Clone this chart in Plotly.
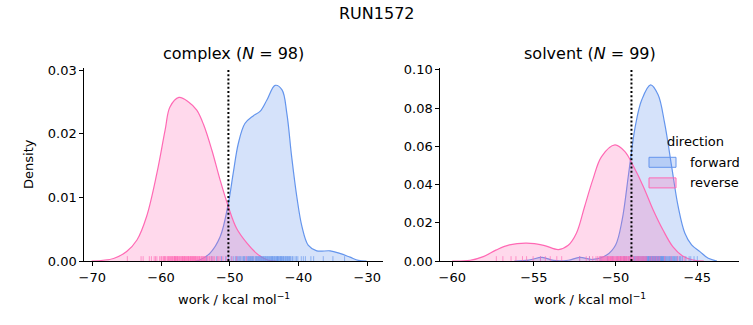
import plotly.graph_objects as go
from plotly.subplots import make_subplots

# ---------------- data ----------------
suptitle = "RUN1572"
phases = ["complex", "solvent"]
n_counts = [98, 99]
directions = ["forward", "reverse"]

# KDE curves (x, density)
complex_fwd_x = [-55.0, -54.3, -52.9, -51.4, -50.2, -49.5, -48.75, -47.8, -46.6, -45.6, -44.6, -43.4,
                 -42.4, -41.7, -41.0, -40.25, -39.5, -38.6, -37.35, -35.4, -34.0, -32.5, -31.3, -30.1]
complex_fwd_y = [0.0, 0.0002, 0.0012, 0.0038, 0.0091, 0.0138, 0.0185, 0.0216, 0.0228, 0.0235, 0.0253, 0.0276,
                 0.0269, 0.0232, 0.0164, 0.0101, 0.0054, 0.0025, 0.0016, 0.0016, 0.0012, 0.0006, 0.0001, 0.0]

complex_rev_x = [-70.1, -66.9, -65.0, -63.5, -62.1, -60.6, -59.4, -58.7, -57.4, -56.0, -54.8, -53.8,
                 -52.6, -51.4, -50.2, -49.0, -47.5, -46.1, -44.6, -43.2]
complex_rev_y = [0.0, 0.0004, 0.0015, 0.0033, 0.0070, 0.0138, 0.0206, 0.0242, 0.0257, 0.0250, 0.0237, 0.0214,
                 0.0174, 0.0127, 0.0085, 0.0051, 0.0028, 0.0012, 0.0002, 0.0]

solvent_fwd_x = [-56.2, -55.3, -54.5, -53.8, -52.9, -52.2, -51.4, -50.55, -50.0, -49.6, -49.2, -48.8, -48.4,
                 -47.86, -47.4, -47.0, -46.57, -46.17, -45.76, -45.35, -44.84, -44.33, -43.8]
solvent_fwd_y = [0.0, 0.0005, 0.0019, 0.0003, 0.0004, 0.0019, 0.0008, 0.0031, 0.0084, 0.0215, 0.0459, 0.0703, 0.0843,
                 0.0921, 0.0869, 0.0721, 0.0494, 0.0284, 0.0145, 0.0084, 0.0049, 0.0014, 0.0]

solvent_rev_x = [-60.0, -58.9, -58.1, -57.3, -56.5, -55.45, -54.4, -53.5, -52.9, -52.4, -51.9, -51.4, -50.86,
                 -50.04, -49.43, -48.9, -48.3, -47.7, -47.1, -46.5, -45.9, -45.25, -44.6]
solvent_rev_y = [0.0, 0.0004, 0.0023, 0.0058, 0.0084, 0.0093, 0.0082, 0.0060, 0.0082, 0.0145, 0.0284, 0.0424, 0.0546,
                 0.0607, 0.0572, 0.0494, 0.0389, 0.0267, 0.0162, 0.0075, 0.0026, 0.0005, 0.0]

# rug (individual work values), estimated from the tick marks
complex_fwd_rug = [-53.4, -52.6, -51.9, -51.2, -50.6, -50.2, -49.8, -49.5, -49.2, -48.9, -48.7, -48.4, -48.2,
                   -48.0, -47.8, -47.6, -47.4, -47.2, -47.0, -46.8, -46.6, -46.5, -46.3, -46.1, -46.0, -45.8,
                   -45.6, -45.5, -45.3, -45.1, -45.0, -44.8, -44.7, -44.5, -44.4, -44.2, -44.1, -43.9, -43.8,
                   -43.7, -43.5, -43.4, -43.3, -43.1, -43.0, -42.9, -42.7, -42.6, -42.5, -42.3, -42.2, -42.0,
                   -41.9, -41.7, -41.5, -41.3, -41.1, -40.8, -40.5, -40.1, -39.6, -39.0, -38.2, -37.8, -36.4,
                   -35.0, -33.3, -48.55, -47.1, -46.9, -45.9, -45.2, -44.6, -44.3, -43.6, -43.2, -42.8, -42.4,
                   -41.6, -41.4, -44.9, -46.2, -47.3, -45.7, -43.85, -42.15, -40.9, -49.05, -47.9, -46.7, -45.4,
                   -44.0, -43.05, -42.55, -41.8, -41.2, -40.3, -39.3]
complex_rev_rug = [-64.9, -62.9, -62.6, -61.7, -61.4, -61.0, -60.8, -60.6, -60.2, -60.0, -59.9, -59.7, -59.6,
                   -59.4, -59.3, -59.1, -59.0, -58.9, -58.8, -58.7, -58.6, -58.5, -58.4, -58.3, -58.1, -58.0,
                   -57.9, -57.8, -57.7, -57.6, -57.5, -57.4, -57.3, -57.2, -57.1, -57.0, -56.9, -56.8, -56.7,
                   -56.6, -56.5, -56.4, -56.3, -56.2, -56.1, -56.0, -55.9, -55.8, -55.7, -55.6, -55.5, -55.4,
                   -55.3, -55.2, -55.1, -55.0, -54.9, -54.8, -54.7, -54.6, -54.5, -54.4, -54.2, -54.1, -54.0,
                   -53.9, -53.8, -53.6, -53.5, -53.3, -53.2, -53.0, -52.9, -52.6, -52.4, -52.2, -51.8, -51.4,
                   -51.0, -50.5, -49.7, -49.0, -47.6, -57.95, -56.05, -55.05, -58.25, -56.55, -55.65, -54.35,
                   -57.65, -56.85, -59.5, -58.05, -55.35, -53.7, -52.7, -51.6]

solvent_fwd_rug = [-54.6, -52.2, -51.6, -50.9, -50.5, -50.2, -49.9, -49.7, -49.5, -49.35, -49.2, -49.05,
                   -48.9, -48.8, -48.7, -48.6, -48.5, -48.4, -48.3, -48.2, -48.15, -48.1, -48.0, -47.95,
                   -47.9, -47.85, -47.8, -47.75, -47.7, -47.65, -47.6, -47.55, -47.5, -47.45, -47.4, -47.35,
                   -47.3, -47.25, -47.2, -47.15, -47.1, -47.0, -46.95, -46.9, -46.8, -46.7, -46.6, -46.5,
                   -46.4, -46.3, -46.2, -46.1, -46.0, -45.9, -45.7, -45.5, -45.4, -48.45, -48.25, -48.05,
                   -47.98, -47.88, -47.78, -47.68, -47.58, -47.48, -47.38, -47.28, -47.18, -47.05, -46.85,
                   -46.65, -46.45, -46.25, -48.35, -48.65, -48.75, -48.55, -47.52, -47.62, -47.72, -47.82,
                   -47.92, -48.02, -48.12, -47.42, -47.32, -47.22, -47.12, -46.75, -46.55, -46.05, -49.1,
                   -49.45, -45.2, -45.0, -48.85, -46.35, -47.08]
solvent_rev_rug = [-57.3, -56.9, -56.4, -56.1, -55.7, -55.45, -55.05, -54.6, -54.3, -54.0, -53.6, -53.3,
                   -52.2, -51.8, -51.4, -51.0, -50.9, -50.8, -50.7, -50.6, -50.5, -50.45, -50.4, -50.35,
                   -50.3, -50.25, -50.2, -50.15, -50.1, -50.05, -50.0, -49.95, -49.9, -49.85, -49.8, -49.75,
                   -49.7, -49.65, -49.6, -49.55, -49.5, -49.45, -49.4, -49.35, -49.3, -49.25, -49.2, -49.15,
                   -49.1, -49.0, -48.9, -48.8, -48.7, -48.6, -48.5, -48.4, -48.3, -48.2, -48.1, -47.9,
                   -47.7, -47.5, -47.3, -47.0, -46.6, -46.2, -45.8, -50.55, -50.65, -50.75, -50.85, -50.95,
                   -51.2, -51.1, -50.32, -50.12, -49.92, -49.72, -49.52, -49.32, -49.12, -48.95, -48.75,
                   -48.55, -48.35, -48.15, -49.62, -49.42, -49.82, -50.22, -50.42, -49.05, -48.65, -48.45,
                   -48.25, -47.8, -47.6, -47.4, -51.6]

# free-energy estimates shown as dotted lines
dg_estimates = [-50.2, -49.03]

# axis settings
x_ranges = [[-71.16, -27.67], [-60.73, -42.43]]
y_tops = [0.03036, 0.10105]
x_tickvals = [[-70, -60, -50, -40, -30], [-60, -55, -50, -45]]
y_tickvals = [[0.0, 0.01, 0.02, 0.03], [0.0, 0.02, 0.04, 0.06, 0.08, 0.10]]

# ---------------- style ----------------
FONT = "DejaVu Sans"
W, H = 753, 325
colors = {"forward": "#6495ED", "reverse": "#FF69B4"}
fills = {"forward": "rgba(100,149,237,0.27)", "reverse": "rgba(255,105,180,0.25)"}
rugc = {"forward": "rgba(100,149,237,0.65)", "reverse": "rgba(255,105,180,0.65)"}

x_domains = [[84.3 / W, 383.3 / W], [440.3 / W, 739.3 / W]]
y_domain = [1 - 261 / H, 1 - 67.8 / H]

fig = make_subplots(rows=1, cols=2)

curves = {
    ("complex", "forward"): (complex_fwd_x, complex_fwd_y, complex_fwd_rug),
    ("complex", "reverse"): (complex_rev_x, complex_rev_y, complex_rev_rug),
    ("solvent", "forward"): (solvent_fwd_x, solvent_fwd_y, solvent_fwd_rug),
    ("solvent", "reverse"): (solvent_rev_x, solvent_rev_y, solvent_rev_rug),
}

for i, phase in enumerate(phases):
    col = i + 1
    for d in directions:
        xs, ys, rug = curves[(phase, d)]
        fig.add_trace(go.Scatter(
            x=xs, y=ys, mode="lines", line=dict(color=colors[d], width=1.2, shape="spline", smoothing=1.0),
            fill="tozeroy", fillcolor=fills[d], name=d, showlegend=False, hoverinfo="skip"),
            row=1, col=col)
    # rugs
    for d in directions:
        _, _, rug = curves[(phase, d)]
        h = 0.025 * y_tops[i]
        rx, ry = [], []
        for v in rug:
            rx += [v, v, None]
            ry += [0, h, None]
        fig.add_trace(go.Scatter(x=rx, y=ry, mode="lines", line=dict(color=rugc[d], width=1),
                                 showlegend=False, hoverinfo="skip"), row=1, col=col)
    fig.add_vline(x=dg_estimates[i], line=dict(color="black", width=2, dash="2px,2.2px"), row=1, col=col)

axis_common = dict(showline=True, linecolor="black", linewidth=1, ticks="outside", ticklen=4,
                   tickwidth=1, tickcolor="black", showgrid=False, zeroline=False, mirror=False,
                   automargin=False, tickfont=dict(family=FONT, size=13, color="black"))
for i in range(2):
    xa = "xaxis" if i == 0 else "xaxis2"
    ya = "yaxis" if i == 0 else "yaxis2"
    fig.layout[xa].update(domain=x_domains[i], range=x_ranges[i], tickvals=x_tickvals[i], **axis_common)
    fig.layout[ya].update(domain=y_domain, range=[0, y_tops[i]], tickvals=y_tickvals[i],
                          tickformat=".2f", **axis_common)

ann = []
centers = [(x_domains[i][0] + x_domains[i][1]) / 2 for i in range(2)]
for i, phase in enumerate(phases):
    ann.append(dict(text=f"{phase} (<i>N</i> = {n_counts[i]})", x=centers[i], y=1 - 54 / H,
                    xref="paper", yref="paper", showarrow=False, xanchor="center", yanchor="middle",
                    font=dict(family=FONT, size=16, color="black")))
    ann.append(dict(text="work / kcal mol<sup>−1</sup>", x=centers[i], y=1 - 299 / H,
                    xref="paper", yref="paper", showarrow=False, xanchor="center", yanchor="middle",
                    font=dict(family=FONT, size=13, color="black")))
ann.append(dict(text="Density", x=28.5 / W, y=1 - 164.5 / H, textangle=-90, xref="paper", yref="paper",
                showarrow=False, xanchor="center", yanchor="middle",
                font=dict(family=FONT, size=13, color="black")))
ann.append(dict(text=suptitle, x=0.5, y=1 - 13 / H, xref="paper", yref="paper", showarrow=False,
                xanchor="center", yanchor="middle", font=dict(family=FONT, size=16, color="black")))

# legend (drawn as patches + labels, frameless like the reference)
ann.append(dict(text="direction", x=665 / W, y=1 - 141.5 / H, xref="paper", yref="paper",
                showarrow=False, xanchor="left", yanchor="middle",
                font=dict(family=FONT, size=13, color="black")))
shapes = []
for k, d in enumerate(directions):
    yc = 162.3 + 20.6 * k
    shapes.append(dict(type="rect", xref="paper", yref="paper",
                       x0=649 / W, x1=676 / W, y0=1 - (yc - 5) / H, y1=1 - (yc + 5) / H,
                       fillcolor=fills[d], line=dict(color=colors[d], width=1)))
    ann.append(dict(text=d, x=687.5 / W, y=1 - yc / H, xref="paper", yref="paper",
                    showarrow=False, xanchor="left", yanchor="middle",
                    font=dict(family=FONT, size=13, color="black")))

fig.update_layout(
    width=W, height=H, margin=dict(l=0, r=0, t=0, b=0),
    paper_bgcolor="white", plot_bgcolor="white",
    annotations=ann, shapes=list(fig.layout.shapes) + shapes,
    showlegend=False,
)

fig.write_html("out.html")
